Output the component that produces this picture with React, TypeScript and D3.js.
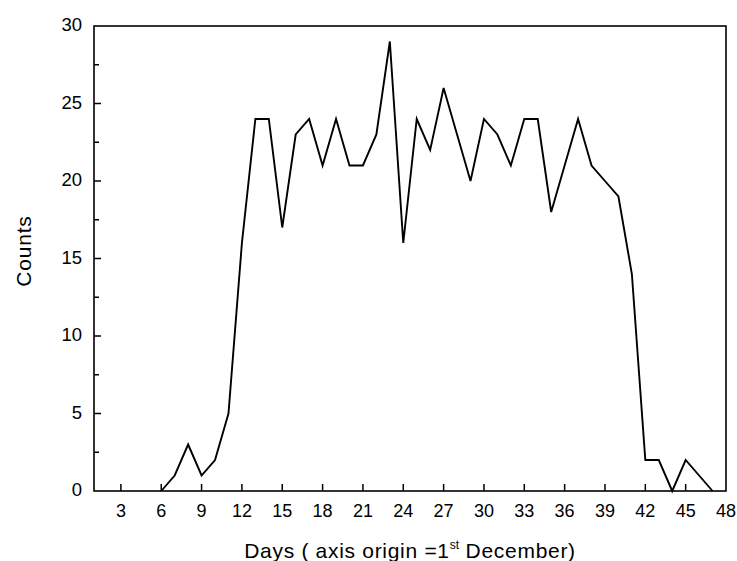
import React, { useEffect, useRef } from "react";
import * as d3 from "d3";

// days since 1st December and the counts for each day
const days = [6, 7, 8, 9, 10, 11, 12, 13, 14, 15, 16, 17, 18, 19, 20, 21, 22, 23, 24, 25, 26, 27, 28,
  29, 30, 31, 32, 33, 34, 35, 36, 37, 38, 39, 40, 41, 42, 43, 44, 45, 46, 47];
const counts = [0, 1, 3, 1, 2, 5, 16, 24, 24, 17, 23, 24, 21, 24, 21, 21, 23, 29, 16, 24, 22, 26, 23,
  20, 24, 23, 21, 24, 24, 18, 21, 24, 21, 20, 19, 14, 2, 2, 0, 2, 1, 0];

const xTicks = [3, 6, 9, 12, 15, 18, 21, 24, 27, 30, 33, 36, 39, 42, 45, 48];
const yTicks = [0, 5, 10, 15, 20, 25, 30];
const yMinor = [2.5, 7.5, 12.5, 17.5, 22.5, 27.5];

const W = 737;
const H = 561;
const margin = { top: 26, right: 11, bottom: 70, left: 94 };
const FONT = "'Liberation Sans', Arial, sans-serif";

export default function App() {
  const ref = useRef<SVGSVGElement>(null);

  useEffect(() => {
    const svg = d3.select(ref.current);
    svg.selectAll("*").remove();

    const x = d3.scaleLinear().domain([1, 48]).range([margin.left, W - margin.right]);
    const y = d3.scaleLinear().domain([0, 30]).range([H - margin.bottom, margin.top]);

    const g = svg.append("g");

    // frame
    g.append("rect")
      .attr("x", x(1)).attr("y", y(30))
      .attr("width", x(48) - x(1)).attr("height", y(0) - y(30))
      .attr("fill", "none").attr("stroke", "#000").attr("stroke-width", 1.6);

    // x ticks (inward)
    g.selectAll(".xt").data(xTicks.filter(d => d < 48)).enter().append("line")
      .attr("x1", d => x(d)).attr("x2", d => x(d))
      .attr("y1", y(0)).attr("y2", y(0) - 7)
      .attr("stroke", "#000").attr("stroke-width", 1.5);
    g.selectAll(".xl").data(xTicks).enter().append("text")
      .attr("x", d => x(d)).attr("y", y(0) + 26)
      .attr("text-anchor", "middle")
      .style("font-family", FONT).style("font-size", "18px")
      .text(d => d);

    // y ticks
    g.selectAll(".yt").data(yTicks.filter(d => d > 0 && d < 30)).enter().append("line")
      .attr("x1", x(1)).attr("x2", x(1) + 7)
      .attr("y1", d => y(d)).attr("y2", d => y(d))
      .attr("stroke", "#000").attr("stroke-width", 1.5);
    g.selectAll(".ym").data(yMinor).enter().append("line")
      .attr("x1", x(1)).attr("x2", x(1) + 5)
      .attr("y1", d => y(d)).attr("y2", d => y(d))
      .attr("stroke", "#000").attr("stroke-width", 1.5);
    g.selectAll(".yl").data(yTicks).enter().append("text")
      .attr("x", x(1) - 12).attr("y", d => y(d) + 5)
      .attr("text-anchor", "end")
      .style("font-family", FONT).style("font-size", "18.5px")
      .text(d => d);

    // the line
    const pts = days.map((d, i) => [d, counts[i]] as [number, number]);
    const line = d3.line<[number, number]>().x(d => x(d[0])).y(d => y(d[1]));
    g.append("path").datum(pts)
      .attr("d", line)
      .attr("fill", "none").attr("stroke", "#000").attr("stroke-width", 1.9)
      .attr("stroke-linejoin", "miter");

    // axis titles
    g.append("text")
      .attr("transform", `translate(31,251) rotate(-90)`)
      .attr("text-anchor", "middle")
      .style("font-family", FONT).style("font-size", "21px")
      .style("letter-spacing", "0.8px")
      .text("Counts");

    const t = g.append("text")
      .attr("x", (x(1) + x(48)) / 2).attr("y", 558)
      .attr("text-anchor", "middle")
      .style("font-family", FONT).style("font-size", "21px")
      .style("letter-spacing", "0.7px");
    t.append("tspan").text("Days ( axis origin =1");
    t.append("tspan").attr("dy", -9).style("font-size", "12px").style("letter-spacing", "0px").text("st");
    t.append("tspan").attr("dy", 9).text(" December)");
  }, []);

  return (
    <svg ref={ref} width={W} height={H}
      style={{ position: "absolute", left: 0, top: 0, background: "#fff" }} />
  );
}
